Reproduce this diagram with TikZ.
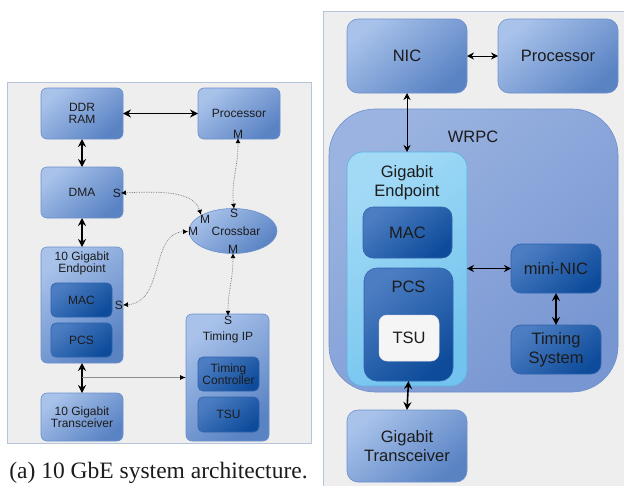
\documentclass[tikz,border=0pt]{standalone}
\usepackage{fontspec}
\setmainfont{Liberation Serif}
\setsansfont{Liberation Sans}
\usetikzlibrary{arrows.meta,shapes.geometric}

\definecolor{panelbg}{HTML}{EEEEEE}
\definecolor{panelrim}{HTML}{B4C4DC}
\definecolor{boxhi}{HTML}{A8C2EA}
\definecolor{boxlo}{HTML}{5A83C4}
\definecolor{boxrim}{HTML}{6C90CC}
\definecolor{darkhi}{HTML}{4C7DC2}
\definecolor{darklo}{HTML}{0E4C9B}
\definecolor{darkrim}{HTML}{2F63AE}
\definecolor{wrpchi}{HTML}{9AB3E0}
\definecolor{wrpclo}{HTML}{7896D2}
\definecolor{ephi}{HTML}{A2DAF6}
\definecolor{eplo}{HTML}{72C3EE}
\definecolor{eprim}{HTML}{5DB2E4}
\definecolor{ink}{HTML}{1C1C1C}

\newcommand\smallsf{\sffamily\fontsize{12}{11.5}\selectfont}
\newcommand\bigsf{\sffamily\fontsize{16.5}{19}\selectfont}

\tikzset{
  every node/.style={outer sep=0pt, inner sep=0pt, text=ink},
  panel/.style={fill=panelbg, draw=panelrim, line width=0.8pt},
  blk/.style={draw=boxrim, line width=0.6pt, top color=boxhi, bottom color=boxlo,
              shading angle=40, anchor=north west, align=center},
  darkblk/.style={draw=darkrim, line width=0.6pt, top color=darkhi, bottom color=darklo,
              shading angle=40, anchor=north west, align=center},
  lbox/.style={blk, rounded corners=6pt, font=\smallsf},
  ldark/.style={darkblk, rounded corners=5pt, font=\smallsf},
  rbox/.style={blk, rounded corners=11pt, font=\bigsf},
  rdark/.style={darkblk, rounded corners=10pt, font=\bigsf},
  lbl/.style={font=\smallsf},
  rlbl/.style={font=\bigsf},
  thickarrow/.style={{Stealth[length=8pt,width=8pt]}-{Stealth[length=8pt,width=8pt]}, line width=1.6pt, black},
  thinarrow/.style={{Stealth[length=7pt,width=7pt]}-{Stealth[length=7pt,width=7pt]}, line width=0.9pt, black},
  busarrow/.style={{Latex[length=5pt,width=5pt,black]}-{Latex[length=5pt,width=5pt,black]}, densely dotted, line width=0.7pt, black!55},
}

\begin{document}
\begin{tikzpicture}[x=1pt,y=-1pt]
\useasboundingbox (0,0) rectangle (624,485);
\fill[white] (0,0) rectangle (624,485);

% ---------------- left: 10 GbE system ----------------
\draw[panel] (7,82) rectangle (311,443);

\node[lbox, minimum width=82pt, minimum height=51pt] (ddr) at (41,88) {DDR\\RAM};
\node[lbox, minimum width=82pt, minimum height=51pt] (lproc) at (198,88) {Processor};
\node[lbox, minimum width=82pt, minimum height=51pt] (dma) at (41,167) {DMA};
\node[draw=boxrim, line width=0.6pt, top color=boxhi, bottom color=boxlo, shading angle=40,
      ellipse, minimum width=88pt, minimum height=45pt] (xbar) at (233,231) {};
\node[lbl] (xbart) at (236,231) {Crossbar};

\node[lbox, minimum width=82pt, minimum height=116pt] (lep) at (41,247) {};
\node[lbl, align=center] (leplbl) at (82,263.5) {10 Gigabit\\Endpoint};
\node[ldark, minimum width=61pt, minimum height=34pt] (lmac) at (51,283) {MAC};
\node[ldark, minimum width=61pt, minimum height=34pt] (lpcs) at (51,323) {PCS};
\node[lbox, minimum width=82pt, minimum height=48pt] (ltrx) at (41,393) {10 Gigabit\\Transceiver};

\node[lbox, minimum width=83pt, minimum height=127pt] (tip) at (186,314) {};
\node[lbl] (tips) at (228,320) {S};
\node[lbl] (tiplbl) at (228,337) {Timing IP};
\node[ldark, minimum width=61pt, minimum height=34pt] (tctl) at (198,357) {Timing\\Controller};
\node[ldark, minimum width=61pt, minimum height=35pt] (ltsu) at (198,397) {TSU};

% port labels
\node[lbl] (procm) at (238,134) {M};
\node[lbl] (dmas) at (117,193) {S};
\node[lbl] (leps) at (119,305) {S};
\node[lbl] (xbars) at (234,213) {S};
\node[lbl] (xbarm1) at (205,219) {M};
\node[lbl] (xbarm2) at (193,231.5) {M};
\node[lbl] (xbarm3) at (233,249) {M};

% solid links
\draw[thickarrow] (ddr.east) -- (lproc.west);
\draw[thickarrow] (ddr.south) -- (dma.north);
\draw[thickarrow] (dma.south) -- (lep.north);
\draw[thickarrow] (lep.south) -- (ltrx.north);
\coordinate (tap) at (82,377.5);
\draw[line width=0.9pt, black!45, -{Latex[length=6pt,width=5pt,black]}] (tap) -- (tip.west);

% bus links
\draw[busarrow] (procm.south) .. controls (238,170) and (231,180) .. (xbars.north);
\draw[busarrow] (dmas.east) .. controls (165,191) and (194,192) .. ([xshift=-4pt]xbarm1.north);
\draw[busarrow] (leps.east) .. controls (165,302) and (150,233) .. (xbarm2.west);
\draw[busarrow] (xbarm3.south) .. controls (233,280) and (228,290) .. (tips.north);

% caption
\node[font=\fontsize{23.5}{26}\selectfont\rmfamily, anchor=base] (cap) at (158.5,478) {(a) 10 GbE system architecture.};

% ---------------- right: WR node ----------------
\draw[panel] (323,11) rectangle (640,500);

\node[rbox, minimum width=120pt, minimum height=74pt] (nic) at (347,19) {NIC};
\node[rbox, minimum width=120pt, minimum height=74pt] (rproc) at (498,19) {Processor};

\node[draw=boxrim, line width=0.6pt, top color=wrpchi, bottom color=wrpclo, shading angle=40,
      rounded corners=46pt, anchor=north west, minimum width=289pt, minimum height=283pt] (wrpc) at (329,109) {};
\node[rlbl] (wrpclbl) at (473,137) {WRPC};

\node[draw=eprim, line width=0.6pt, top color=ephi, bottom color=eplo, shading angle=40,
      rounded corners=16pt, anchor=north west, minimum width=120pt, minimum height=234pt] (rep) at (347,152) {};
\node[rlbl, align=center] (replbl) at (407,183) {Gigabit\\Endpoint};
\node[rdark, minimum width=89pt, minimum height=51pt] (rmac) at (363,207) {MAC};
\node[rdark, rounded corners=13pt, minimum width=89pt, minimum height=113pt] (rpcs) at (364,268) {};
\node[rlbl, text=ink] (rpcslbl) at (408.5,287) {PCS};
\node[fill=white!96!black, draw=white!90!black, line width=0.5pt, rounded corners=8pt,
      anchor=north west, minimum width=60pt, minimum height=46pt, font=\bigsf] (rtsu) at (379,315) {TSU};

\node[rdark, minimum width=90pt, minimum height=49pt] (mnic) at (511,244) {mini-NIC};
\node[rdark, minimum width=90pt, minimum height=49pt] (tsys) at (511,325) {Timing\\System};

\node[rbox, minimum width=120pt, minimum height=72pt] (rtrx) at (347,410) {Gigabit\\Transceiver};

\draw[thinarrow] (nic.east) -- (rproc.west);
\draw[thinarrow] (nic.south) -- (rep.north);
\draw[thinarrow] (rep.east |- mnic.west) -- (mnic.west);
\draw[thickarrow] (mnic.south) -- (tsys.north);
\draw[thickarrow] (rpcs.south) -- (rtrx.north);
\end{tikzpicture}
\end{document}
